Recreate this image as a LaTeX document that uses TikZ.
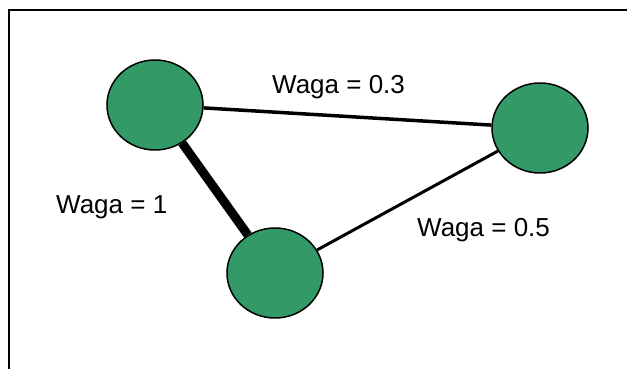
\documentclass[tikz,border=0pt]{standalone}
\usepackage{fontspec}
\setmainfont{Liberation Sans}
\usetikzlibrary{shapes.geometric}
\definecolor{seagreen}{RGB}{51,153,102}
\begin{document}
\begin{tikzpicture}[x=1pt,y=1pt,
	vertex/.style = {shape=ellipse, draw, line width=1.5pt, fill=seagreen,
		minimum width=96pt, minimum height=90pt, inner sep=0pt},
	weight/.style = {anchor=base west, inner sep=0pt, font=\fontsize{26}{31}\selectfont}]
	
	\useasboundingbox (0,0) rectangle (627,369);
	\draw[line width=1.6pt] (9,0) -- (9,359) -- (627,359);
	
	\node[vertex] (a) at (155,264) {};
	\node[vertex] (b) at (540,241) {};
	\node[vertex] (c) at (275,96) {};
	
	\draw[line width=3.5pt] (a) -- (b);
	\draw[line width=9pt] (a) -- (c);
	\draw[line width=3pt] (c) -- (b);
	
	\node[weight] (wab) at (272,275) {Waga = 0.3};
	\node[weight] (wac) at (56,155) {Waga = 1};
	\node[weight] (wcb) at (417,132) {Waga = 0.5};
\end{tikzpicture}
\end{document}
